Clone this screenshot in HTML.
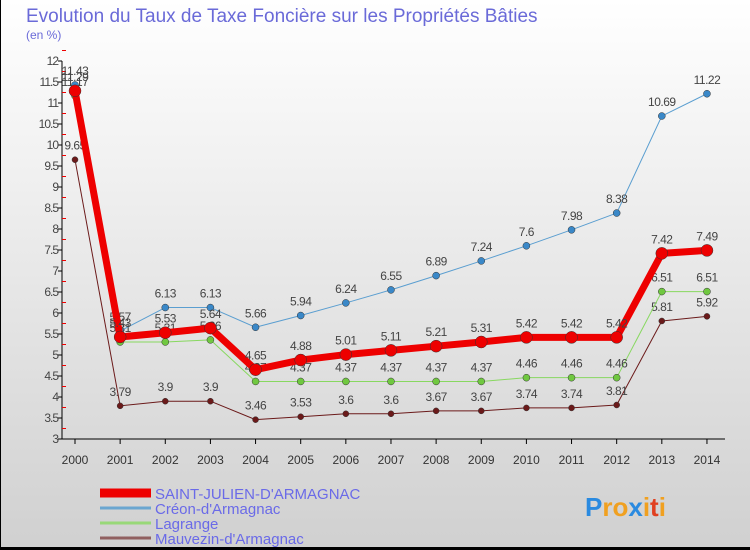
<!DOCTYPE html>
<html><head><meta charset="utf-8"><style>
body{margin:0;width:750px;height:550px;overflow:hidden;font-family:"Liberation Sans",sans-serif}
svg{display:block}
</style></head><body>
<svg id="c" width="750" height="550" xmlns="http://www.w3.org/2000/svg">
<defs><linearGradient id="bg" x1="0" y1="0" x2="0" y2="1"><stop offset="0" stop-color="#ffffff"/><stop offset="1" stop-color="#d0d0d0"/></linearGradient></defs>
<rect x="0" y="0" width="750" height="550" fill="url(#bg)"/>
<line x1="0.5" y1="0" x2="0.5" y2="550" stroke="#000"/>
<line x1="0" y1="548.5" x2="750" y2="548.5" stroke="#000" stroke-width="3"/>
<text x="26" y="22" font-size="19" fill="#6a6ad8">Evolution du Taux de Taxe Foncière sur les Propriétés Bâties</text>
<text x="26" y="39" font-size="12" fill="#6a6ad8">(en %)</text>
<g id="axes"></g>
<g id="series"></g>
<g id="legend"></g>
<text x="585" y="516" font-size="26" font-weight="bold"><tspan fill="#2a8ae0">P</tspan><tspan fill="#f0a020">ro</tspan><tspan fill="#2a8ae0">x</tspan><tspan fill="#f0a020">i</tspan><tspan fill="#e04020">t</tspan><tspan fill="#f0a020">i</tspan></text>
</svg>
<script>
const years=[2000,2001,2002,2003,2004,2005,2006,2007,2008,2009,2010,2011,2012,2013,2014];
const saintJulien=[11.29,5.43,5.53,5.64,4.65,4.88,5.01,5.11,5.21,5.31,5.42,5.42,5.42,7.42,7.49];
const creon=[11.43,5.57,6.13,6.13,5.66,5.94,6.24,6.55,6.89,7.24,7.6,7.98,8.38,10.69,11.22];
const lagrange=[11.17,5.31,5.31,5.36,4.37,4.37,4.37,4.37,4.37,4.37,4.46,4.46,4.46,6.51,6.51];
const mauvezin=[9.65,3.79,3.9,3.9,3.46,3.53,3.6,3.6,3.67,3.67,3.74,3.74,3.81,5.81,5.92];
const yTicks=[3,3.5,4,4.5,5,5.5,6,6.5,7,7.5,8,8.5,9,9.5,10,10.5,11,11.5,12];
const seriesNames=["SAINT-JULIEN-D'ARMAGNAC","Créon-d'Armagnac","Lagrange","Mauvezin-d'Armagnac"];
const NS="http://www.w3.org/2000/svg";
const x=i=>75+i*45.14;
const y=v=>439-(v-3)*42;
function mk(tag,attrs,parent,txt){const e=document.createElementNS(NS,tag);for(const k in attrs)e.setAttribute(k,attrs[k]);if(txt!==undefined)e.textContent=txt;parent.appendChild(e);return e;}
const ax=document.getElementById('axes');
let a=mk('line',{x1:62,y1:61,x2:62,y2:439,stroke:'#000'},ax);


a=mk('line',{x1:62,y1:439,x2:725,y2:439,stroke:'#000'},ax);


yTicks.forEach(t=>{
 const l=mk('line',{x1:58,y1:y(t),x2:62,y2:y(t),stroke:'#000'},ax);
 
 
 const m=mk('line',{x1:62,y1:y(t+0.25),x2:66,y2:y(t+0.25),stroke:'#e00'},ax);
 
 
 const tx=mk('text',{x:58,y:y(t)+4,'font-size':12,fill:'#444','text-anchor':'end','letter-spacing':'-1'},ax,String(t));
 
 
});
years.forEach((yr,i)=>{
 const l=mk('line',{x1:x(i),y1:439,x2:x(i),y2:444,stroke:'#000'},ax);
 
 
 const tx=mk('text',{x:x(i),y:464,'font-size':12,fill:'#333','text-anchor':'middle'},ax,String(yr));
 
 
});
const sg=document.getElementById('series');
function draw(vals,color,w,r,dot,name,lblOff){
 const g=mk('g',{},sg);
 
 
 const p=mk('polyline',{points:vals.map((v,i)=>x(i)+','+y(v)).join(' '),fill:'none',stroke:color,'stroke-width':w,'stroke-linejoin':'round'},g);
 
 
 vals.forEach((v,i)=>{
  const c=mk('circle',{cx:x(i),cy:y(v),r:r,fill:dot,stroke:'#333','stroke-width':0.5},g);
  
  
  const t=mk('text',{x:x(i),y:y(v)+lblOff,'font-size':12,fill:'#444','text-anchor':'middle','letter-spacing':'-0.5'},g,String(v));
  
  
 });
}
draw(mauvezin,'#6b1a1a',1,3,'#6b1a1a','mauvezin-series',-10);
draw(lagrange,'#88d860',1,3.5,'#70c840','lagrange-series',-10);
draw(creon,'#5a9ed0',1,3.5,'#3a88c8','creon-series',-10);
draw(saintJulien,'#ee0000',7,6,'#ee0000','saint-julien-series',-10);
const lg=document.getElementById('legend');
const lcol=['#ee0000','#6aa6d0','#98d878','#906060'];
const lw=[9,3,3,3];
seriesNames.forEach((n,i)=>{
 const yy=493+i*15;
 const g=mk('g',{},lg);
 
 
 mk('line',{x1:100,y1:yy,x2:151,y2:yy,stroke:lcol[i],'stroke-width':lw[i]},g);
 mk('text',{x:155,y:yy+6,'font-size':15,fill:'#6a6ae8'},g,n);
});
</script>
</body></html>
